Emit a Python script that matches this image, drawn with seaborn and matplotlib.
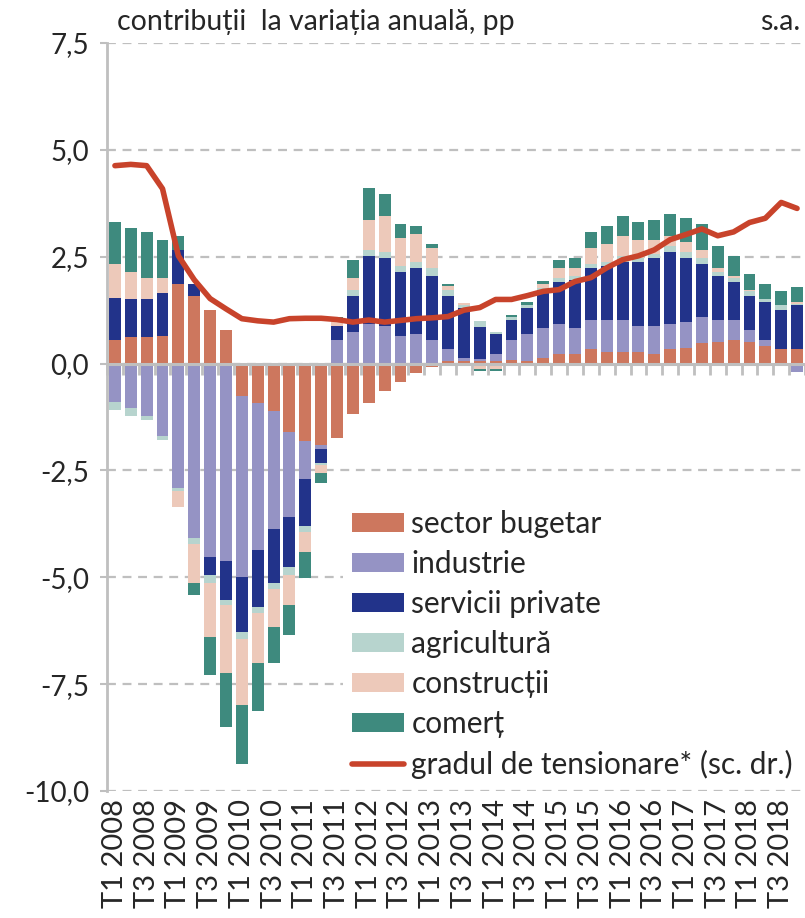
import numpy as np
import matplotlib
matplotlib.use("Agg")
import matplotlib.pyplot as plt
import seaborn as sns
from matplotlib.patches import Patch
from matplotlib.lines import Line2D

# quarters T1 2008 .. T4 2018
quarters = [f"T{q} {y}" for y in range(2008, 2019) for q in range(1, 5)]

sector_bugetar = [0.56, 0.61, 0.61, 0.65, 1.87, 1.59, 1.26, 0.79, -0.75, -0.93, -1.12, -1.59,
                  -1.82, -1.91, -1.73, -1.17, -0.93, -0.65, -0.42, -0.23, -0.09, 0.05, 0.05, 0.05,
                  0.05, 0.09, 0.05, 0.14, 0.23, 0.23, 0.33, 0.28, 0.28, 0.28, 0.23, 0.33,
                  0.37, 0.47, 0.51, 0.56, 0.51, 0.42, 0.33, 0.33]
industrie = [-0.89, -1.03, -1.22, -1.69, -2.90, -4.07, -4.53, -4.63, -4.25, -3.42, -2.76, -2.01,
             -0.89, -0.09, 0.56, 0.75, 0.93, 0.89, 0.65, 0.70, 0.56, 0.28, 0.09, 0.05,
             0.18, 0.47, 0.65, 0.70, 0.70, 0.61, 0.70, 0.75, 0.75, 0.61, 0.66, 0.60,
             0.61, 0.61, 0.52, 0.47, 0.28, 0.14, 0.00, -0.19]
servicii_private = [0.98, 0.89, 0.89, 0.99, 0.79, 0.28, -0.42, -0.89, -1.29, -1.35, -1.26, -1.17,
                    -1.08, -0.33, 0.33, 0.84, 1.59, 1.59, 1.50, 1.54, 1.50, 1.26, 1.17, 0.75,
                    0.47, 0.47, 0.61, 0.89, 0.99, 1.12, 1.21, 1.26, 1.35, 1.49, 1.59, 1.69,
                    1.50, 1.26, 1.03, 0.89, 0.80, 0.89, 0.93, 1.03]
agricultura = [-0.19, -0.19, -0.09, -0.09, -0.09, -0.14, -0.19, -0.14, -0.16, -0.14, -0.14, -0.18,
               -0.14, -0.05, 0.00, 0.14, 0.14, 0.14, 0.14, 0.14, 0.18, 0.14, 0.05, 0.14,
               0.05, 0.05, 0.05, 0.03, 0.09, 0.10, 0.10, 0.09, 0.14, 0.10, 0.09, 0.14,
               0.14, 0.14, 0.09, 0.09, 0.10, 0.05, 0.10, 0.04]
constructii = [0.80, 0.65, 0.51, 0.37, -0.37, -0.93, -1.26, -1.59, -1.54, -1.17, -0.89, -0.70,
               -0.47, -0.19, 0.12, 0.28, 0.70, 0.84, 0.65, 0.66, 0.47, 0.09, 0.05, -0.12,
               -0.12, 0.00, 0.00, 0.09, 0.23, 0.18, 0.37, 0.42, 0.47, 0.42, 0.33, 0.23,
               0.23, 0.18, 0.09, 0.05, 0.04, 0.00, -0.05, 0.05]
comert = [0.98, 1.03, 1.07, 0.89, 0.33, -0.28, -0.89, -1.26, -1.38, -1.12, -0.84, -0.70,
          -0.61, -0.23, 0.08, 0.42, 0.75, 0.51, 0.33, 0.18, 0.09, 0.05, 0.00, -0.05,
          -0.05, 0.05, 0.09, 0.09, 0.19, 0.24, 0.37, 0.42, 0.47, 0.42, 0.46, 0.51,
          0.56, 0.61, 0.52, 0.46, 0.37, 0.37, 0.33, 0.33]
gradul_tensionare = [4.63, 4.66, 4.63, 4.09, 2.52, 1.96, 1.52, 1.28, 1.05, 1.00, 0.97, 1.05,
                     1.06, 1.06, 1.03, 0.97, 1.02, 0.97, 1.01, 1.05, 1.07, 1.10, 1.25, 1.31,
                     1.50, 1.50, 1.59, 1.69, 1.73, 1.92, 2.01, 2.24, 2.43, 2.52, 2.66, 2.90,
                     3.02, 3.15, 2.99, 3.08, 3.30, 3.40, 3.77, 3.63]

series = [
    ("sector bugetar", sector_bugetar, "#CD775E"),
    ("industrie", industrie, "#9593C4"),
    ("servicii private", servicii_private, "#22338A"),
    ("agricultură", agricultura, "#B7D4CE"),
    ("construcții", constructii, "#EDC9BA"),
    ("comerț", comert, "#3E8A7E"),
]
line_color = "#C8432B"
grid_color = "#BFBFBF"

sns.set_style("white")
plt.rcParams["font.family"] = ["Lato", "DejaVu Sans"]
fs = 20.5

fig = plt.figure(figsize=(8.05, 9.18), dpi=100)
ax = fig.add_axes([107 / 805, 127 / 918, 698 / 805, 748 / 918])

x = np.arange(len(quarters))
pos_bottom = np.zeros(len(x))
neg_bottom = np.zeros(len(x))
for name, vals, color in series:
    v = np.array(vals)
    bottom = np.where(v >= 0, pos_bottom, neg_bottom)
    ax.bar(x, v, bottom=bottom, width=0.75, color=color, zorder=2, linewidth=0)
    pos_bottom += np.where(v >= 0, v, 0)
    neg_bottom += np.where(v < 0, v, 0)

ax.set_ylim(-10, 7.5)
ax.set_xlim(-0.4, 43.5)
yt = np.arange(-10, 7.6, 2.5)
ax.set_yticks(yt)
ax.set_yticklabels([f"{t:.1f}".replace(".", ",") for t in yt], fontsize=20)
for t in yt:
    ax.axhline(t, color=grid_color, lw=1.6, ls=(0, (4, 3)), zorder=1)
ax.axhline(0, color=grid_color, lw=2.2, zorder=3)

for s in ["top", "right", "bottom"]:
    ax.spines[s].set_visible(False)
ax.spines["left"].set_color(grid_color)
ax.spines["left"].set_linewidth(2)
ax.spines["bottom"].set_position(("data", 0))
ax.tick_params(axis="y", direction="out", length=5, width=1.5, color=grid_color, pad=8)

# category boundary ticks on the zero line
ax.set_xticks(np.arange(-0.5, 44, 1))
ax.set_xticklabels([])
ax.tick_params(axis="x", direction="out", length=8, width=2, color=grid_color, bottom=True)

sec = ax.secondary_xaxis("bottom")
sec.set_xticks(x[::2])
sec.set_xticklabels(quarters[::2], rotation=90, fontsize=21)
sec.tick_params(length=0, pad=6)
sec.spines["bottom"].set_visible(False)

ax2 = ax.twinx()
sns.lineplot(x=x, y=gradul_tensionare, ax=ax2, color=line_color, lw=4, zorder=5)
ax2.set_ylim(-10, 7.5)
ax2.set_yticks([])
for s in ax2.spines.values():
    s.set_visible(False)

fig.text(117 / 805, 1 - 22 / 918, "contribuții  la variația anuală, pp", fontsize=fs, va="center", ha="left")
fig.text(800 / 805, 1 - 22 / 918, "s.a.", fontsize=fs, va="center", ha="right")

handles = [Patch(facecolor=c, edgecolor="none") for _, _, c in series]
handles.append(Line2D([0], [0], color=line_color, lw=4))
labels = [n for n, _, _ in series] + ["gradul de tensionare* (sc. dr.)"]
leg = ax2.legend(handles, labels, loc="lower right", bbox_to_anchor=(1.0, 0.0),
                 frameon=True, fontsize=21.5, handlelength=1.75, handleheight=0.6,
                 labelspacing=0.4, handletextpad=0.25, borderpad=0.3, borderaxespad=0.1)
leg.get_frame().set_facecolor("white")
leg.get_frame().set_edgecolor("none")
leg.get_frame().set_alpha(1)
leg.get_frame().set_boxstyle("square", pad=0)

fig.savefig("out.png", dpi=100)
